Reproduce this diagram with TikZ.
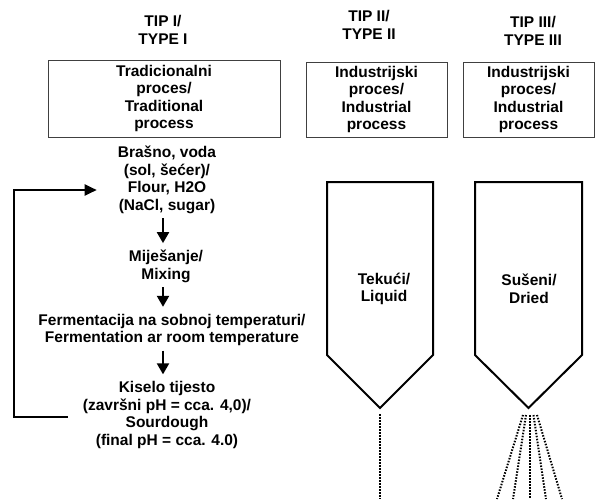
\documentclass[tikz,border=0pt]{standalone}
\usepackage{fontspec}
\setmainfont{Liberation Sans}
\usepackage{tikz}
\usetikzlibrary{arrows.meta,positioning}
\tikzset{
	txt/.style = 
    {
			align = center,
			inner sep = 2pt,
			font = \fontsize{15.5}{17.5}\selectfont\bfseries
    },
	process box/.style = {txt, draw = black!75, line width = 0.9pt},
	flow arrow/.style = 
    {
			-{Triangle[length=11pt,width=12pt]},
			line width = 2.2pt,
			shorten <= 2.5pt,
			shorten >= 5pt
    },
	feedback/.style = {-{Triangle[length=12pt,width=11pt]}, line width = 2.2pt},
	silo/.style = {line width = 2pt, line join = miter},
	stream/.style = {line width = 2pt, dash pattern = on 1.5pt off 1.5pt}
}
\begin{document}
\begin{tikzpicture}[x = 1pt, y = -1pt]
        \useasboundingbox (0,0) rectangle (595,499);

        % Nodes
        \node (type1) [txt] at (163,30) {TIP I/\\TYPE I};
        \node (type2) [txt] at (369,25) {TIP II/\\TYPE II};
        \node (type3) [txt] at (533,31) {TIP III/\\TYPE III};

        \node (traditional) [process box, minimum width = 232pt, minimum height = 77pt] at (164,98.5) {Tradicionalni\\proces/\\Traditional\\process};
        \node (industrial2) [process box, minimum width = 141pt, minimum height = 75pt] at (376.5,99.5) {Industrijski\\proces/\\Industrial\\process};
        \node (industrial3) [process box, minimum width = 131pt, minimum height = 75pt] at (528.5,99.5) {Industrijski\\proces/\\Industrial\\process};

        \node (flour) [txt] at (167,180) {Brašno, voda\\(sol, šećer)/\\Flour, H2O\\(NaCl, sugar)};
        \node (mixing) [txt] at (166,266.5) {Miješanje/\\Mixing};
        \node (fermentation) [txt] at (172,330) {Fermentacija na sobnoj temperaturi/\\Fermentation ar room temperature};
        \node (sourdough) [txt] at (167,415) {Kiselo tijesto\\(završni pH = cca. 4,0)/\\Sourdough\\(final pH = cca. 4.0)};

        \node (liquid) [txt] at (384,289) {Tekući/\\Liquid};
        \node (dried) [txt] at (529,289) {Sušeni/\\Dried};

        \coordinate (axis) at (163,0);
        \coordinate (back) at (14,0);
        \coordinate (liquid tip) at (380,408);
        \coordinate (dried tip) at (528.5,408);

        % Silos
        \draw [silo] (327,182) -- (433,182) -- (433,355) -- (liquid tip) -- (327,355) -- cycle;
        \draw [silo] (475,182) -- (582,182) -- (582,355) -- (dried tip) -- (475,355) -- cycle;

        % Arrows
        \draw [flow arrow] (flour.south -| axis) -- (mixing.north -| axis);
        \draw [flow arrow] (mixing.south -| axis) -- (fermentation.north -| axis);
        \draw [flow arrow] (fermentation.south -| axis) -- (sourdough.north -| axis);
        \draw [feedback] ([xshift=-13pt,yshift=-2pt]sourdough.west) -- ([yshift=-2pt]sourdough.west -| back) |- ([xshift=-19pt,yshift=-10pt]flour.west);

        % Outflow
        \draw [stream] ([yshift=-6pt]liquid tip) -- ++(0,85);
        \foreach \xa/\xb in {-5.5/-31.5, -2.5/-15.5, 1.5/1.5, 5/17.5, 8.5/33.5}
            \draw [stream] ([xshift=\xa pt,yshift=-7pt]dried tip) -- ([xshift=\xb pt]dried tip |- 0,499);
\end{tikzpicture}
\end{document}
